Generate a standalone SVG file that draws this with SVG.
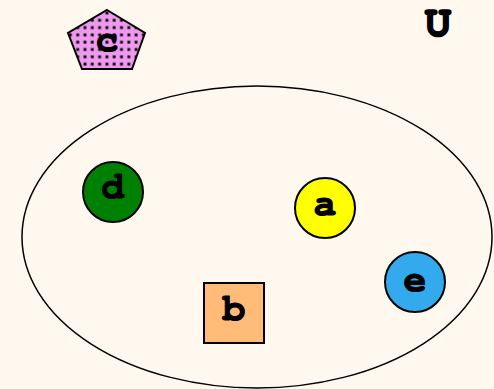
<svg xmlns="http://www.w3.org/2000/svg" width="494" height="389" viewBox="0 0 494 389">
<defs>
<pattern id="dots" width="7.3" height="7.3" patternUnits="userSpaceOnUse" x="1" y="2">
<rect width="7.3" height="7.3" fill="#ee99ee"/>
<rect x="2.3" y="2.3" width="2.8" height="2.8" fill="#000"/>
</pattern>
</defs>
<style>
.lbl{font-weight:bold;font-size:38px;text-anchor:middle;fill:#000;stroke:#000;stroke-width:1.2}
.shape{stroke:#000;stroke-width:2}
</style>
<rect width="494" height="389" fill="#fff8ee"/>
<g id="U">
<ellipse cx="257" cy="237" rx="235" ry="151" fill="none" stroke="#000" stroke-width="1.5"/>
<text x="438" y="36" class="lbl" font-family="FreeMono, Liberation Mono, monospace" style="font-size:44px;stroke-width:1.7">U</text>
</g>
<g id="connectors"></g>
<g id="node-c">
<polygon class="shape" points="107,10 145,33 132,69 82,69 68,33" fill="url(#dots)"/>
<text x="107" y="51" class="lbl" font-family="FreeMono, Liberation Mono, monospace">c</text>
</g>
<g id="node-d">
<circle class="shape" cx="113" cy="192" r="30" fill="#008000"/>
<text x="113" y="198" class="lbl" font-family="FreeMono, Liberation Mono, monospace">d</text>
</g>
<g id="node-a">
<circle class="shape" cx="325" cy="208" r="30" fill="#ffff00"/>
<text x="325" y="215" class="lbl" font-family="FreeMono, Liberation Mono, monospace">a</text>
</g>
<g id="node-b">
<rect class="shape" x="204" y="283" width="60" height="60" fill="#ffbb77"/>
<text x="234" y="320" class="lbl" font-family="FreeMono, Liberation Mono, monospace">b</text>
</g>
<g id="node-e">
<circle class="shape" cx="415" cy="282" r="30" fill="#33aaee"/>
<text x="415" y="291" class="lbl" font-family="FreeMono, Liberation Mono, monospace">e</text>
</g>
</svg>
